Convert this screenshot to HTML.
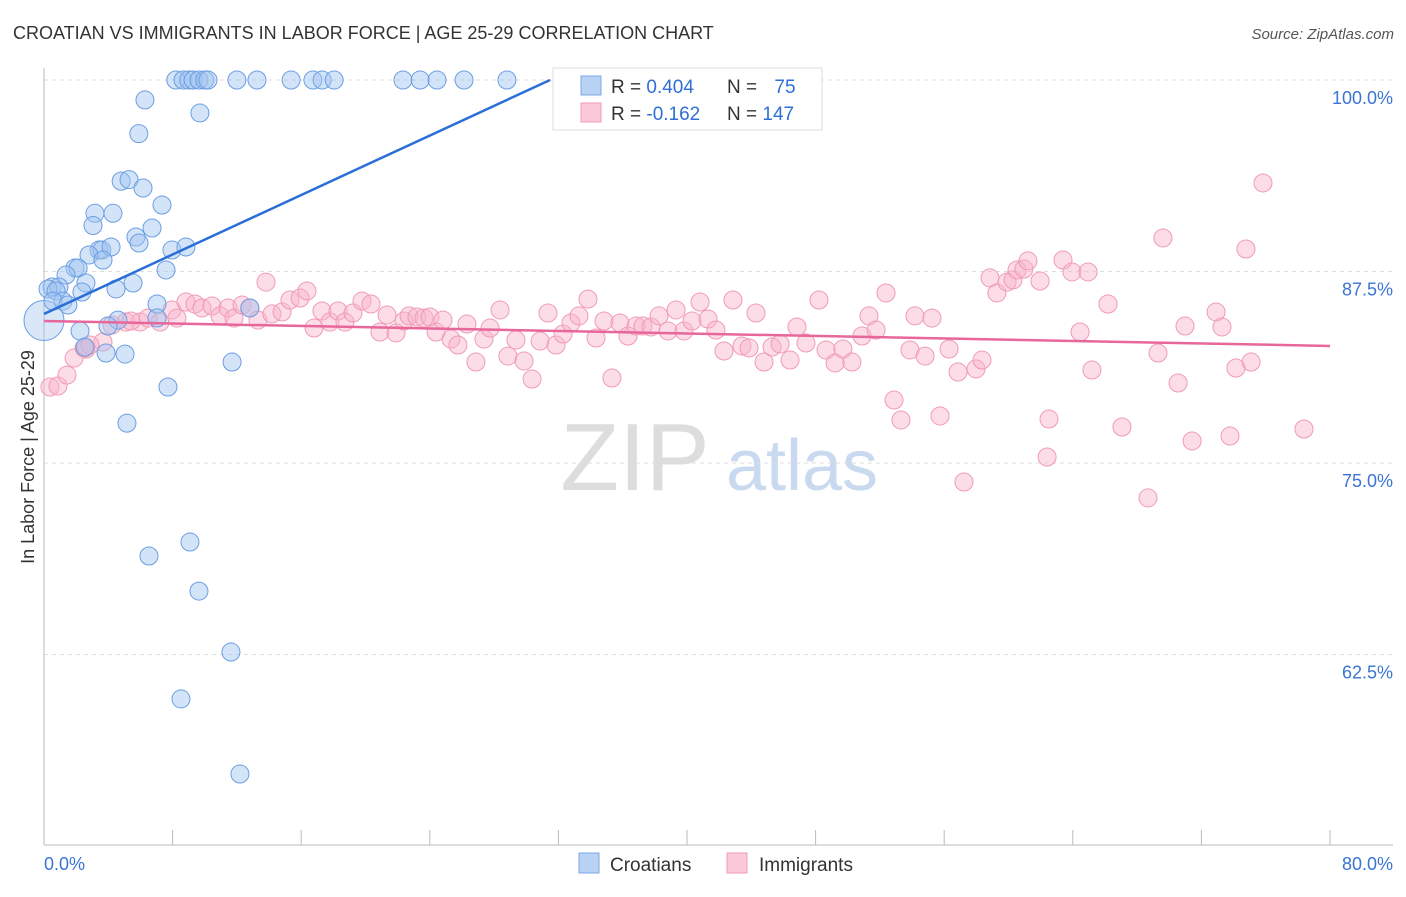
<!DOCTYPE html>
<html><head><meta charset="utf-8"><style>
body{margin:0;background:#fff;font-family:"Liberation Sans",sans-serif;}
svg text{font-family:"Liberation Sans",sans-serif;}
</style></head><body>
<svg id="chart" width="1406" height="892" xmlns="http://www.w3.org/2000/svg">
<text x="13" y="39" font-size="18" fill="#333">CROATIAN VS IMMIGRANTS IN LABOR FORCE | AGE 25-29 CORRELATION CHART</text>
<text x="1394" y="39" font-size="15" fill="#555" text-anchor="end" font-style="italic">Source: ZipAtlas.com</text>
<g>
<text x="635" y="490" font-size="96" fill="#ddd" text-anchor="middle" font-family="Liberation Serif">ZIP</text>
<text x="802" y="490" font-size="72" fill="#c9d9ef" text-anchor="middle">atlas</text>
</g>
<g id="grid"></g>
<g id="axes"></g>
<g id="pinkPts"></g>
<g id="bluePts"></g>
<g id="trends"></g>
<text transform="translate(34,457) rotate(-90)" font-size="18" fill="#333" text-anchor="middle">In Labor Force | Age 25-29</text>
<g>
<rect x="553" y="68" width="269" height="62" fill="#fff" stroke="#ddd"/>
<rect x="581" y="76" width="20" height="19" fill="#b9d3f5" stroke="#7aa7e6"/>
<rect x="581" y="103" width="20" height="19" fill="#fbc9d9" stroke="#f09ab6"/>
<text x="611" y="93" font-size="19" fill="#333">R = <tspan fill="#2f6fd6">0.404</tspan></text>
<text x="727" y="93" font-size="19" fill="#333">N = <tspan fill="#2f6fd6" dx="12">75</tspan></text>
<text x="611" y="120" font-size="19" fill="#333">R = <tspan fill="#2f6fd6">-0.162</tspan></text>
<text x="727" y="120" font-size="19" fill="#333">N = <tspan fill="#2f6fd6">147</tspan></text>
</g>
<g>
<rect x="579" y="853" width="20" height="20" fill="#b9d3f5" stroke="#7aa7e6"/>
<text x="610" y="871" font-size="19" fill="#333">Croatians</text>
<rect x="727" y="853" width="20" height="20" fill="#fbc9d9" stroke="#f09ab6"/>
<text x="759" y="871" font-size="19" fill="#333">Immigrants</text>
</g>
</svg>
<script>
const yTicks=[100,87.5,75,62.5];
const yTickLabels=["100.0%","87.5%","75.0%","62.5%"];
const xTicks=[0,8,16,24,32,40,48,56,64,72,80];
const xEndLabels=["0.0%","80.0%"];
const blueX=[8.2,8.65,9.0,9.27,9.64,10.0,10.2,12.0,13.25,15.37,16.73,17.3,18.05,22.33,23.4,24.45,26.13,28.8,33.97,6.28,9.7,5.9,4.8,5.29,6.16,7.34,3.17,4.29,3.05,6.72,5.72,5.91,3.42,3.6,4.17,2.8,3.67,7.96,8.83,1.93,2.12,7.59,1.37,2.61,5.54,0.5,0.93,0.25,0.75,2.36,4.48,1.18,0.56,1.49,7.03,12.8,7.03,4.6,3.98,2.24,2.55,3.86,5.04,11.7,7.71,5.16,6.53,9.08,9.64,11.63,8.52,12.19];
const blueY=[100,100,100,100,100,100,100,100,100,100,100,100,100,100,100,100,100,100,100,98.7,97.85,96.5,93.4,93.5,92.95,91.84,91.3,91.3,90.5,90.34,89.75,89.36,88.9,88.9,89.1,88.58,88.25,88.9,89.1,87.73,87.73,87.6,87.27,86.75,86.75,86.49,86.49,86.36,86.23,86.16,86.36,85.57,85.57,85.31,85.38,85.12,84.47,84.33,83.94,83.62,82.57,82.18,82.11,81.59,79.96,77.6,68.93,69.84,66.64,62.66,59.6,54.7];
const pinkX=[0.37,0.87,1.43,1.87,2.61,3.67,2.49,2.86,4.23,5.1,5.97,5.41,6.47,7.22,7.96,8.27,8.83,9.39,9.83,10.45,10.95,11.45,11.82,12.32,12.81,13.31,13.81,14.18,14.81,15.3,15.93,16.36,16.8,17.29,17.79,18.29,18.72,19.22,19.78,20.34,20.9,21.34,21.9,22.4,22.71,23.2,23.64,24.01,24.39,24.82,25.32,25.75,26.31,26.87,27.37,27.75,28.37,28.86,29.36,29.86,30.36,30.86,31.35,31.85,32.29,32.78,33.28,33.84,34.34,34.84,35.33,35.83,36.33,36.83,37.26,37.76,38.26,38.82,39.32,39.81,40.31,40.81,41.31,41.8,42.3,42.86,43.42,43.86,44.29,44.79,45.29,45.79,46.41,46.84,47.4,48.21,48.65,49.21,49.7,50.26,50.89,51.32,51.76,52.38,52.88,53.31,53.87,54.18,54.81,55.24,55.74,56.3,56.86,57.23,57.98,58.35,58.85,59.28,59.91,60.28,60.53,60.96,61.21,61.96,62.52,62.4,63.39,63.95,64.45,64.95,65.19,66.19,67.06,68.68,69.3,69.61,70.55,70.98,71.42,72.91,73.28,73.78,74.15,74.77,75.09,75.83,78.38];
const pinkY=[79.96,80.03,80.74,81.85,82.44,82.9,82.51,82.7,84.01,84.2,84.2,84.27,84.46,84.2,84.99,84.46,85.51,85.38,85.12,85.25,84.6,85.12,84.46,85.31,85.12,84.33,86.81,84.73,84.86,85.64,85.77,86.23,83.81,84.92,84.2,84.92,84.2,84.79,85.57,85.38,83.55,84.66,83.49,84.27,84.6,84.53,84.46,84.53,83.55,84.33,83.09,82.7,84.07,81.59,83.09,83.81,84.99,81.98,83.03,81.66,80.48,82.96,84.79,82.7,83.42,84.14,84.6,85.7,83.16,84.27,80.55,84.14,83.29,83.94,83.94,83.88,84.6,83.62,84.99,83.62,84.27,85.51,84.4,83.68,82.31,85.64,82.64,82.51,84.79,81.59,82.57,82.77,81.72,83.88,82.83,85.64,82.38,81.53,82.44,81.59,83.29,84.6,83.68,86.1,79.11,77.81,82.38,84.6,81.98,84.46,78.07,82.44,80.94,73.76,81.14,81.72,87.08,86.1,86.81,86.95,87.6,87.66,88.19,86.88,77.87,75.39,88.25,87.47,83.55,87.47,81.07,85.38,77.35,72.72,82.18,89.69,80.22,83.94,76.44,84.86,83.88,76.76,81.2,88.97,81.59,93.28,77.22];
const blueTrend=[[0,84.73],[31.48,100]];
const pinkTrend=[[0,84.27],[80,82.64]];
const NS="http://www.w3.org/2000/svg";
const X0=44,X1=1330,Y100=80,PPY=15.32;
const sx=v=>X0+(v/80)*(X1-X0);
const sy=v=>Y100+(100-v)*PPY;
function mk(tag,attrs,parent){const e=document.createElementNS(NS,tag);for(const k in attrs)e.setAttribute(k,attrs[k]);parent.appendChild(e);return e;}
const grid=document.getElementById('grid'),axes=document.getElementById('axes');
yTicks.forEach((t,i)=>{
  const l=mk('line',{x1:X0,x2:1393,y1:sy(t),y2:sy(t),stroke:'#ddd','stroke-dasharray':'4,4'},grid);
  
  
  const tx=mk('text',{x:1393,y:sy(t)+24,'font-size':18,fill:'#3a74d4','text-anchor':'end'},axes);
  tx.textContent=yTickLabels[i];
  
  
});
const xa=mk('line',{x1:X0,x2:1393,y1:845,y2:845,stroke:'#bbb'},axes);


const ya=mk('line',{x1:X0,x2:X0,y1:68,y2:845,stroke:'#bbb'},axes);


xTicks.forEach(t=>{
  const l=mk('line',{x1:sx(t),x2:sx(t),y1:830,y2:845,stroke:'#bbb'},axes);
  
  
});
const xl0=mk('text',{x:44,y:870,'font-size':18,fill:'#3a74d4'},axes);xl0.textContent=xEndLabels[0];


const xl1=mk('text',{x:1393,y:870,'font-size':18,fill:'#3a74d4','text-anchor':'end'},axes);xl1.textContent=xEndLabels[1];


const pg=document.getElementById('pinkPts');
pinkX.forEach((x,i)=>{
  const c=mk('circle',{cx:sx(x),cy:sy(pinkY[i]),r:9,fill:'rgba(248,180,202,0.45)',stroke:'#f09ab6','stroke-width':1},pg);
  
  
});
const bg=document.getElementById('bluePts');
const big=mk('circle',{cx:sx(0),cy:sy(84.3),r:20,fill:'rgba(160,196,240,0.4)',stroke:'#6b9ee3'},bg);


blueX.forEach((x,i)=>{
  const c=mk('circle',{cx:sx(x),cy:sy(blueY[i]),r:9,fill:'rgba(160,196,240,0.45)',stroke:'#6b9ee3','stroke-width':1},bg);
  
  
});
const tg=document.getElementById('trends');
const bt=mk('line',{x1:sx(blueTrend[0][0]),y1:sy(blueTrend[0][1]),x2:sx(blueTrend[1][0]),y2:sy(blueTrend[1][1]),stroke:'#2a6fd8','stroke-width':2.5},tg);


const pt=mk('line',{x1:sx(pinkTrend[0][0]),y1:sy(pinkTrend[0][1]),x2:sx(pinkTrend[1][0]),y2:sy(pinkTrend[1][1]),stroke:'#e8679a','stroke-width':2.5},tg);


</script>
</body></html>
